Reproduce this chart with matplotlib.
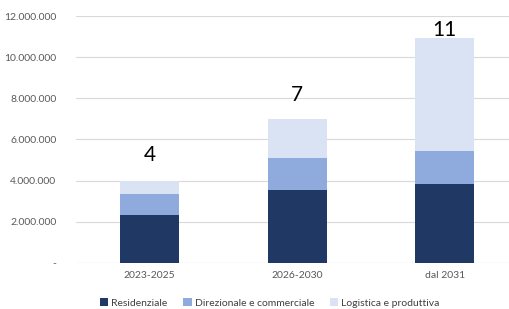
import matplotlib
matplotlib.use("Agg")
import matplotlib.pyplot as plt
from matplotlib.ticker import FuncFormatter

plt.rcParams['font.family'] = ['Lato', 'DejaVu Sans']

categories = ["2023-2025", "2026-2030", "dal 2031"]
residenziale = [2330000, 3560000, 3840000]
direzionale = [1010000, 1560000, 1620000]
logistica = [640000, 1890000, 5490000]
totals_label = ["4", "7", "11"]
series_names = ["Residenziale", "Direzionale e commerciale", "Logistica e produttiva"]
colors = ["#203864", "#8faadc", "#dae3f3"]
# gap between bar top and label baseline (layout)
label_gap = [980000, 840000, 70000]

fig = plt.figure(figsize=(5.09, 3.09), dpi=100)
ax = fig.add_axes([0.149, 0.1498, 0.851, 0.798])

x = list(range(len(categories)))
w = 0.4
b1 = ax.bar(x, residenziale, w, color=colors[0], label=series_names[0], zorder=3)
bot2 = residenziale
b2 = ax.bar(x, direzionale, w, bottom=bot2, color=colors[1], label=series_names[1], zorder=3)
bot3 = [a + b for a, b in zip(residenziale, direzionale)]
b3 = ax.bar(x, logistica, w, bottom=bot3, color=colors[2], label=series_names[2], zorder=3)

tops = [a + b for a, b in zip(bot3, logistica)]
for xi, t, lab, g in zip(x, tops, totals_label, label_gap):
    ax.text(xi, t + g, lab, ha='center', va='baseline', fontsize=15, color='black', zorder=4)

ax.set_ylim(0, 12000000)
ax.set_xlim(-0.5, 2.436)
ax.set_yticks(range(0, 12000001, 2000000))

def fmt(v, pos):
    if v == 0:
        return "-"
    return f"{int(v):,}".replace(",", ".")

ax.yaxis.set_major_formatter(FuncFormatter(fmt))
ax.set_xticks(x)
ax.set_xticklabels(categories)
ax.tick_params(axis='both', length=0, labelsize=7.5, colors='#595959')
ax.tick_params(axis='y', pad=14)
ax.tick_params(axis='x', pad=6)
ax.grid(axis='y', color='#d9d9d9', linewidth=0.8, zorder=0)
for s in ax.spines.values():
    s.set_visible(False)
ax.axhline(0, color='#d9d9d9', linewidth=0.8, zorder=1)

leg = fig.legend(handles=[b1, b2, b3], labels=series_names, loc='center', bbox_to_anchor=(0.53, 0.02),
                 ncol=3, frameon=False, fontsize=7.5, handlelength=0.8, handleheight=0.8,
                 handletextpad=0.3, columnspacing=1.5)
for t in leg.get_texts():
    t.set_color('#404040')

fig.savefig("out.png", dpi=100)
